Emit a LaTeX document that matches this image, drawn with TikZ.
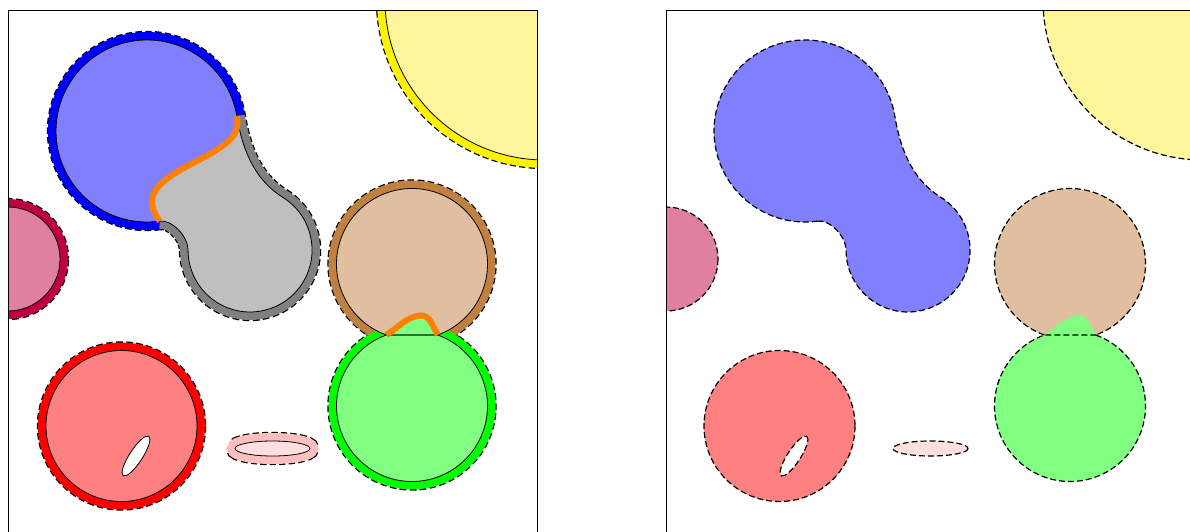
\documentclass[tikz,border=0pt]{standalone}
\usepackage{tikz}
\definecolor{paleyellow}{RGB}{255,245,155}

% region boundaries (one unit = one pixel, y pointing down)
\newcommand{\blueedge}{(159.7,221.1) arc[start angle=82, end angle=350.5, radius=91]}
\newcommand{\greyedge}{(236.8,116) .. controls (243.4,155.5) and (257.5,181.5) .. (282.9,197.4) arc[start angle=-58, end angle=180, radius=62] .. controls (188,236) and (171.6,219.4) .. (159.7,221.1)}
\newcommand{\cutblob}{(236.8,116) .. controls (241,135) and (228,145) .. (195,162) .. controls (160,180) and (140,195) .. (159.7,221.1)}
\newcommand{\cutblobback}{.. controls (140,195) and (160,180) .. (195,162) .. controls (228,145) and (241,135) .. (236.8,116)}
\newcommand{\brownedge}{(386.3,335) arc[start angle=109.9, end angle=430.1, radius=75.5]}
\newcommand{\greenedge}{(437.7,335) arc[start angle=-70.1, end angle=250.1, radius=75.5]}
\newcommand{\cutbump}{(386.3,335) .. controls (398,328) and (406,317) .. (420,315.5) .. controls (430,315) and (432,325) .. (437.7,335)}
\newcommand{\magentaedge}{(8,259) circle[radius=52]}
\newcommand{\yellowedge}{(545,0) circle[radius=160]}
\newcommand{\rededge}{(121.5,426) circle[radius=75.5]}
\newcommand{\redhole}{(136,456) ellipse[x radius=23.5, y radius=6.5, rotate=57]}
\newcommand{\pinkedge}{(272.5,448.5) ellipse[x radius=37.5, y radius=7.5]}

\begin{document}
\begin{tikzpicture}[
    x=0.75pt, y=-0.75pt,
    halo/.style={
        draw=black,
        dash pattern=on 4.5pt off 2.25pt,
        line width=13.8pt
    },
    band/.style={
        draw=#1,
        line width=12pt
    },
    rim/.style={
        draw=black,
        line width=0.6pt
    },
    dashrim/.style={
        draw=black,
        dash pattern=on 4.5pt off 2.25pt,
        line width=0.9pt
    },
    cut/.style={
        draw=orange,
        line width=4.5pt
    },
    panel/.style={
        draw=black,
        line width=0.6pt
    }
]

\useasboundingbox (0,0) rectangle (1190,532);
\clip (0,0) rectangle (1190,532);

% Left panel: regions with their borders
\begin{scope}
\clip (8,10) rectangle (537,560);

\draw[halo] \magentaedge;
\draw[halo] \yellowedge;
\draw[halo] \rededge;
\draw[halo] \pinkedge;
\draw[halo] \blueedge -- \greyedge -- cycle;
\draw[halo] \brownedge;
\draw[halo] \greenedge;

\draw[band=purple] \magentaedge;
\draw[band=yellow] \yellowedge;
\draw[band=red] \rededge;
\draw[band=pink] \pinkedge;
\draw[band=blue] \blueedge;
\draw[band=gray] \greyedge;
\draw[band=brown] \brownedge;
\draw[band=green] \greenedge;

\fill[purple!50] \magentaedge;
\fill[paleyellow] \yellowedge;
\fill[red!50, even odd rule] \rededge \redhole;
\fill[pink!50] \pinkedge;
\fill[blue!50] \blueedge -- \cutblob -- cycle;
\fill[lightgray] \greyedge \cutblobback -- cycle;
\fill[brown!50] \brownedge -- cycle;
\fill[green!50] \greenedge -- cycle;
\fill[green!50] \cutbump -- cycle;

\draw[rim] \magentaedge;
\draw[rim] \yellowedge;
\draw[rim] \rededge \redhole;
\draw[rim] \pinkedge;
\draw[rim] \blueedge -- \greyedge -- cycle;
\draw[rim] \brownedge -- cycle;
\draw[rim] \greenedge -- cycle;

% the two cuts
\draw[cut] \cutblob;
\draw[cut] \cutbump;
\end{scope}
\draw[panel] (8,10) rectangle (537,560);

% Right panel: merged regions
\begin{scope}[shift={(658,0)}]
\begin{scope}
\clip (8,10) rectangle (537,560);

\fill[purple!50] \magentaedge;
\fill[paleyellow] \yellowedge;
\fill[red!50, even odd rule] \rededge \redhole;
\fill[pink!50] \pinkedge;
\fill[blue!50] \blueedge -- \greyedge -- cycle;
\fill[brown!50] \brownedge -- cycle;
\fill[green!50] \greenedge -- cycle;
\fill[green!50] \cutbump -- cycle;

\draw[dashrim] \magentaedge;
\draw[dashrim] \yellowedge;
\draw[dashrim] \rededge \redhole;
\draw[dashrim] \pinkedge;
\draw[dashrim] \blueedge -- \greyedge -- cycle;
\draw[dashrim] \brownedge;
\draw[dashrim] \greenedge -- cycle;
\end{scope}
\draw[panel] (8,10) rectangle (537,560);
\end{scope}

\end{tikzpicture}
\end{document}
